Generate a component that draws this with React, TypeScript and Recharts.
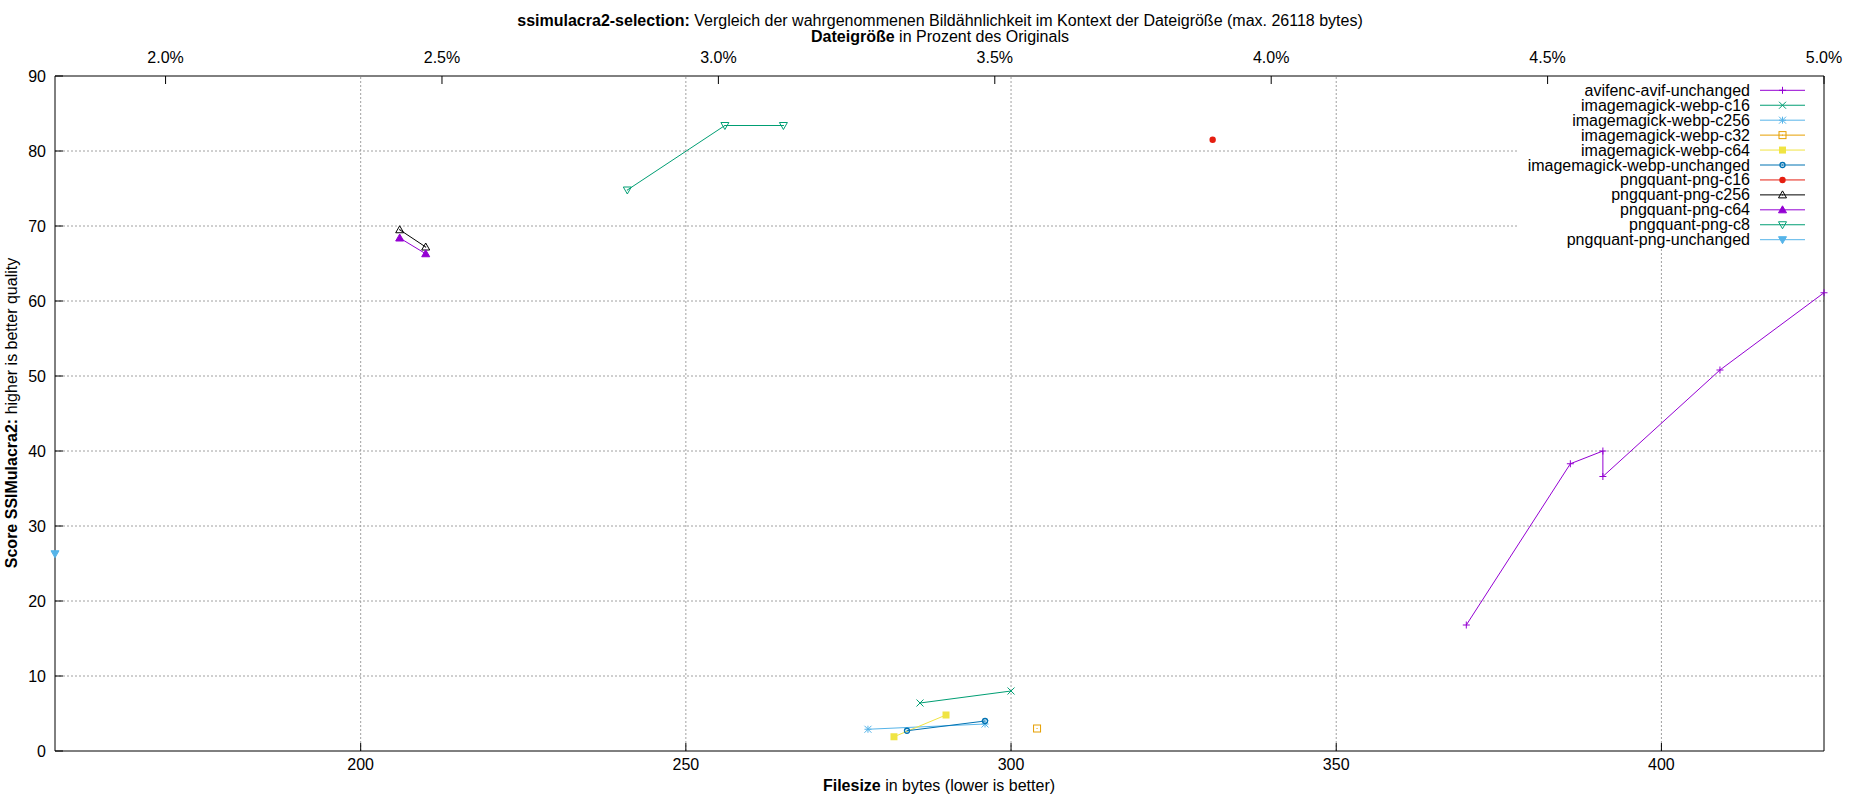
import { Line, LineChart, ReferenceLine, XAxis, YAxis } from "recharts";

// 100 % on the upper axis corresponds to this many bytes
const ORIGINAL_BYTES = 8500;

const xDomain: [number, number] = [153, 425];
const yDomain: [number, number] = [0, 90];
const xTicks = [200, 250, 300, 350, 400];
const x2Ticks = [2.0, 2.5, 3.0, 3.5, 4.0, 4.5, 5.0];
const x2TickLabels = ["2.0%", "2.5%", "3.0%", "3.5%", "4.0%", "4.5%", "5.0%"];
const yTicks = [0, 10, 20, 30, 40, 50, 60, 70, 80, 90];

// the key box hides the grid in the upper right corner
const keyLeftBytes = 378;
const keyBottomScore = 67;

const avifBytes = [370, 386, 391, 391, 409, 425];
const avifScore = [16.8, 38.3, 40.0, 36.6, 50.8, 61.1];
const webpC16Bytes = [286, 300];
const webpC16Score = [6.4, 8.0];
const webpC256Bytes = [278, 296];
const webpC256Score = [2.9, 3.6];
const webpC32Bytes = [304];
const webpC32Score = [3.0];
const webpC64Bytes = [282, 290];
const webpC64Score = [1.9, 4.8];
const webpUnchangedBytes = [284, 296];
const webpUnchangedScore = [2.7, 4.0];
const pngC16Bytes = [331];
const pngC16Score = [81.5];
const pngC256Bytes = [206, 210];
const pngC256Score = [69.5, 67.2];
const pngC64Bytes = [206, 210];
const pngC64Score = [68.4, 66.3];
const pngC8Bytes = [241, 256, 265];
const pngC8Score = [74.8, 83.4, 83.4];
const pngUnchangedBytes = [153];
const pngUnchangedScore = [26.3];

type Shape =
  | "plus"
  | "cross"
  | "star"
  | "square"
  | "squareFilled"
  | "circle"
  | "circleFilled"
  | "triUp"
  | "triUpFilled"
  | "triDown"
  | "triDownFilled";

interface Series {
  name: string;
  color: string;
  shape: Shape;
  bytes: number[];
  score: number[];
}

const series: Series[] = [
  { name: "avifenc-avif-unchanged", color: "#9400d3", shape: "plus", bytes: avifBytes, score: avifScore },
  { name: "imagemagick-webp-c16", color: "#009e73", shape: "cross", bytes: webpC16Bytes, score: webpC16Score },
  { name: "imagemagick-webp-c256", color: "#56b4e9", shape: "star", bytes: webpC256Bytes, score: webpC256Score },
  { name: "imagemagick-webp-c32", color: "#e69f00", shape: "square", bytes: webpC32Bytes, score: webpC32Score },
  { name: "imagemagick-webp-c64", color: "#f0e442", shape: "squareFilled", bytes: webpC64Bytes, score: webpC64Score },
  { name: "imagemagick-webp-unchanged", color: "#0072b2", shape: "circle", bytes: webpUnchangedBytes, score: webpUnchangedScore },
  { name: "pngquant-png-c16", color: "#e51e10", shape: "circleFilled", bytes: pngC16Bytes, score: pngC16Score },
  { name: "pngquant-png-c256", color: "#000000", shape: "triUp", bytes: pngC256Bytes, score: pngC256Score },
  { name: "pngquant-png-c64", color: "#9400d3", shape: "triUpFilled", bytes: pngC64Bytes, score: pngC64Score },
  { name: "pngquant-png-c8", color: "#009e73", shape: "triDown", bytes: pngC8Bytes, score: pngC8Score },
  { name: "pngquant-png-unchanged", color: "#56b4e9", shape: "triDownFilled", bytes: pngUnchangedBytes, score: pngUnchangedScore },
];

const FONT = '"Liberation Sans", Arial, sans-serif';
const GRID = "#a0a0a0";

function Marker({ shape, color, cx, cy }: { shape: Shape; color: string; cx: number; cy: number }) {
  const r = 3.5;
  const centerDot = <rect x={cx - 0.5} y={cy - 0.5} width={1} height={1} fill={color} />;
  switch (shape) {
    case "plus":
      return <path d={`M${cx - r},${cy}H${cx + r}M${cx},${cy - r}V${cy + r}`} stroke={color} strokeWidth={1} fill="none" />;
    case "cross":
      return (
        <path
          d={`M${cx - r},${cy - r}L${cx + r},${cy + r}M${cx - r},${cy + r}L${cx + r},${cy - r}`}
          stroke={color}
          strokeWidth={1}
          fill="none"
        />
      );
    case "star":
      return (
        <path
          d={`M${cx - r},${cy}H${cx + r}M${cx},${cy - r}V${cy + r}M${cx - r},${cy - r}L${cx + r},${cy + r}M${cx - r},${cy + r}L${cx + r},${cy - r}`}
          stroke={color}
          strokeWidth={1}
          fill="none"
        />
      );
    case "square":
      return (
        <g>
          <rect x={cx - r} y={cy - r} width={2 * r} height={2 * r} stroke={color} strokeWidth={1} fill="none" />
          {centerDot}
        </g>
      );
    case "squareFilled":
      return <rect x={cx - r} y={cy - r} width={2 * r} height={2 * r} fill={color} />;
    case "circle":
      return (
        <g>
          <circle cx={cx} cy={cy} r={2.5} stroke={color} strokeWidth={1.3} fill="none" />
          {centerDot}
        </g>
      );
    case "circleFilled":
      return <circle cx={cx} cy={cy} r={3.2} fill={color} />;
    case "triUp":
    case "triUpFilled": {
      const filled = shape === "triUpFilled";
      return (
        <g>
          <path
            d={`M${cx},${cy - r - 0.5}L${cx + r + 0.5},${cy + r - 0.5}L${cx - r - 0.5},${cy + r - 0.5}Z`}
            stroke={color}
            strokeWidth={1}
            fill={filled ? color : "none"}
          />
          {filled ? null : centerDot}
        </g>
      );
    }
    default: {
      const filled = shape === "triDownFilled";
      return (
        <g>
          <path
            d={`M${cx},${cy + r + 0.5}L${cx + r + 0.5},${cy - r + 0.5}L${cx - r - 0.5},${cy - r + 0.5}Z`}
            stroke={color}
            strokeWidth={1}
            fill={filled ? color : "none"}
          />
          {filled ? null : centerDot}
        </g>
      );
    }
  }
}

const KeyBox = () => {
  const rowHeight = 14.94;
  return (
    <svg style={{ position: "absolute", left: 1400, top: 76, overflow: "visible" }} width={420} height={180}>
      {series.map((s, i) => {
        const y = 14.3 + i * rowHeight;
        return (
          <g key={s.name}>
            <text x={350} y={y} textAnchor="end" dominantBaseline="central" fontSize={16} fill="#000" fontFamily={FONT}>
              {s.name}
            </text>
            <line x1={360} x2={405} y1={y} y2={y} stroke={s.color} strokeWidth={1} />
            <Marker shape={s.shape} color={s.color} cx={382.5} cy={y} />
          </g>
        );
      })}
    </svg>
  );
};

export default function App() {
  const toPercent = (bytes: number) => (bytes / ORIGINAL_BYTES) * 100;
  const x2Domain: [number, number] = [toPercent(xDomain[0]), toPercent(xDomain[1])];
  const tickStyle = { fill: "#000", fontSize: 16, fontFamily: FONT };

  // invisible anchors so the secondary axes get a domain and draw their ticks
  const percentAnchor = [
    { pct: x2Domain[0], level: yDomain[0] },
    { pct: x2Domain[1], level: yDomain[1] },
  ];
  const mirrorAnchor = [
    { bytes: xDomain[0], level: yDomain[0] },
    { bytes: xDomain[1], level: yDomain[1] },
  ];

  return (
    <div
      style={{
        position: "absolute",
        left: 0,
        top: 0,
        width: 1850,
        height: 800,
        background: "#fff",
        fontFamily: FONT,
        color: "#000",
      }}
    >
      <LineChart width={1850} height={800} margin={{ top: 0, right: 0, bottom: 0, left: 0 }}>
        <XAxis
          xAxisId="bottom"
          type="number"
          dataKey="bytes"
          domain={xDomain}
          ticks={xTicks}
          height={49}
          stroke="#000"
          tickSize={-8}
          tickMargin={16}
          tick={tickStyle}
        />
        <XAxis
          xAxisId="mirror"
          orientation="top"
          type="number"
          dataKey="bytes"
          domain={xDomain}
          ticks={xTicks}
          height={0}
          stroke="#000"
          tickSize={-8}
          tick={false}
        />
        <XAxis
          xAxisId="percent"
          orientation="top"
          type="number"
          dataKey="pct"
          domain={x2Domain}
          ticks={x2Ticks}
          height={76}
          stroke="#000"
          tickSize={-8}
          tickMargin={21}
          tick={tickStyle}
          tickFormatter={(v: number) => x2TickLabels[x2Ticks.findIndex((t) => Math.abs(t - v) < 1e-6)] ?? ""}
        />
        <YAxis
          yAxisId="left"
          type="number"
          domain={yDomain}
          ticks={yTicks}
          width={55}
          stroke="#000"
          tickSize={-8}
          tickMargin={17}
          tick={tickStyle}
        />
        <YAxis
          yAxisId="right"
          orientation="right"
          type="number"
          domain={yDomain}
          ticks={yTicks}
          width={26}
          stroke="#000"
          tickSize={-8}
          tick={false}
        />

        {xTicks.map((v) => (
          <ReferenceLine
            key={`gx-${v}`}
            xAxisId="bottom"
            yAxisId="left"
            segment={[
              { x: v, y: yDomain[0] },
              { x: v, y: v > keyLeftBytes ? keyBottomScore : yDomain[1] },
            ]}
            stroke={GRID}
            strokeDasharray="2 2"
          />
        ))}
        {yTicks
          .filter((v) => v > yDomain[0] && v < yDomain[1])
          .map((v) => (
            <ReferenceLine
              key={`gy-${v}`}
              xAxisId="bottom"
              yAxisId="left"
              segment={[
                { x: xDomain[0], y: v },
                { x: v > keyBottomScore ? keyLeftBytes : xDomain[1], y: v },
              ]}
              stroke={GRID}
              strokeDasharray="2 2"
            />
          ))}

        <Line
          data={percentAnchor}
          xAxisId="percent"
          yAxisId="right"
          dataKey="level"
          stroke="none"
          dot={false}
          activeDot={false}
          legendType="none"
          isAnimationActive={false}
        />
        <Line
          data={mirrorAnchor}
          xAxisId="mirror"
          yAxisId="left"
          dataKey="level"
          stroke="none"
          dot={false}
          activeDot={false}
          legendType="none"
          isAnimationActive={false}
        />

        {series.map((s) => (
          <Line
            key={s.name}
            name={s.name}
            data={s.bytes.map((b, i) => ({ bytes: b, score: s.score[i] }))}
            xAxisId="bottom"
            yAxisId="left"
            dataKey="score"
            type="linear"
            stroke={s.color}
            strokeWidth={1}
            isAnimationActive={false}
            dot={(p: any) => <Marker key={`${s.name}-${p.index}`} shape={s.shape} color={s.color} cx={p.cx} cy={p.cy} />}
            activeDot={false}
          />
        ))}
      </LineChart>

      <KeyBox />

      <div style={{ position: "absolute", left: 940, top: 12, transform: "translateX(-50%)", whiteSpace: "nowrap", fontSize: 16, lineHeight: "18px" }}>
        <b>ssimulacra2-selection:</b> Vergleich der wahrgenommenen Bildähnlichkeit im Kontext der Dateigröße (max. 26118 bytes)
      </div>
      <div style={{ position: "absolute", left: 940, top: 28, transform: "translateX(-50%)", whiteSpace: "nowrap", fontSize: 16, lineHeight: "18px" }}>
        <b>Dateigröße</b> in Prozent des Originals
      </div>
      <div style={{ position: "absolute", left: 939, top: 777, transform: "translateX(-50%)", whiteSpace: "nowrap", fontSize: 16, lineHeight: "18px" }}>
        <b>Filesize</b> in bytes (lower is better)
      </div>
      <div
        style={{
          position: "absolute",
          left: 12,
          top: 413,
          transform: "translate(-50%, -50%) rotate(-90deg)",
          whiteSpace: "nowrap",
          fontSize: 16,
          lineHeight: "18px",
        }}
      >
        <b>Score SSIMulacra2:</b> higher is better quality
      </div>
    </div>
  );
}
